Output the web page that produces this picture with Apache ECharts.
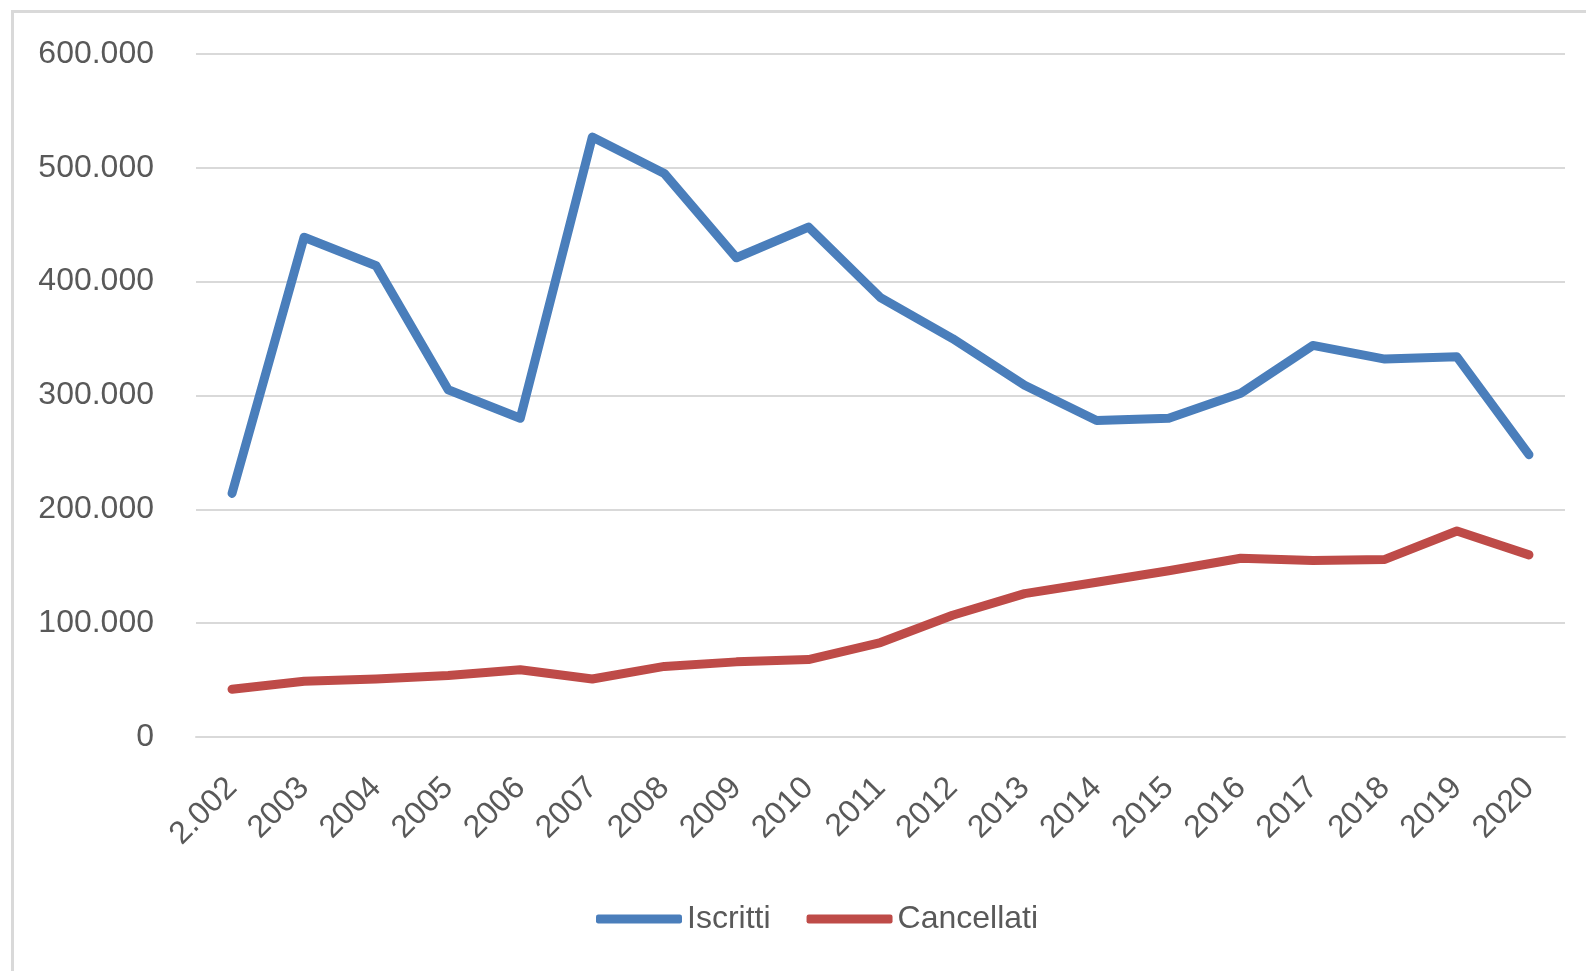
<!DOCTYPE html>
<html>
<head>
<meta charset="utf-8">
<script src="https://cdn.jsdelivr.net/npm/echarts@6/dist/echarts.min.js"></script>
<style>
html,body{margin:0;padding:0;background:#fff;}
#frame{position:absolute;left:11px;top:10px;width:1600px;height:1000px;border-left:3px solid #d9d9d9;border-top:3px solid #d9d9d9;box-sizing:border-box;}
#chart{position:absolute;left:0;top:0;width:1586px;height:971px;}
</style>
</head>
<body>
<div id="frame"></div>
<div id="chart"></div>
<script>
const categories = ['2.002','2003','2004','2005','2006','2007','2008','2009','2010','2011','2012','2013','2014','2015','2016','2017','2018','2019','2020'];
const iscritti = [214000,439000,414000,305000,280000,527000,495000,421000,448000,386000,350000,309000,278000,280000,302000,344000,332000,334000,248000];
const cancellati = [42000,49000,51000,54000,59000,51000,62000,66000,68000,83000,107000,126000,136000,146000,157000,155000,156000,181000,160000];
const yTicks = [0,100000,200000,300000,400000,500000,600000];

const chart = echarts.init(document.getElementById('chart'));
const fmt = v => v === 0 ? '0' : String(v).replace(/\B(?=(\d{3})+(?!\d))/g, '.');
chart.setOption({
  backgroundColor: 'transparent',
  animation: false,
  textStyle: {fontFamily: 'Liberation Sans', color: '#595959'},
  grid: {left: 196, right: 21, top: 54, bottom: 234, containLabel: false},
  legend: {
    bottom: 31, left: 591,
    itemWidth: 86, itemHeight: 9, itemGap: 36,
    icon: 'roundRect',
    textStyle: {fontSize: 32, color: '#595959', fontFamily: 'Liberation Sans'},
    data: ['Iscritti','Cancellati']
  },
  xAxis: {
    type: 'category', data: categories, boundaryGap: true,
    axisLine: {show: true, lineStyle: {color: '#d9d9d9', width: 2}},
    axisTick: {show: false},
    axisLabel: {rotate: 45, fontSize: 32, color: '#595959', margin: 46, interval: 0}
  },
  yAxis: {
    type: 'value', min: yTicks[0], max: yTicks[yTicks.length-1], interval: 100000,
    axisLine: {show: false}, axisTick: {show: false},
    splitLine: {lineStyle: {color: '#d9d9d9', width: 2}},
    axisLabel: {fontSize: 32, color: '#595959', margin: 42, formatter: fmt}
  },
  series: [
    {name: 'Iscritti', type: 'line', data: iscritti, symbol: 'none', lineStyle: {color: '#4A7EBB', width: 9, cap: 'round', join: 'round'}, itemStyle: {color: '#4A7EBB'}},
    {name: 'Cancellati', type: 'line', data: cancellati, symbol: 'none', lineStyle: {color: '#BE4B48', width: 9, cap: 'round', join: 'round'}, itemStyle: {color: '#BE4B48'}}
  ]
});
</script>
</body>
</html>
